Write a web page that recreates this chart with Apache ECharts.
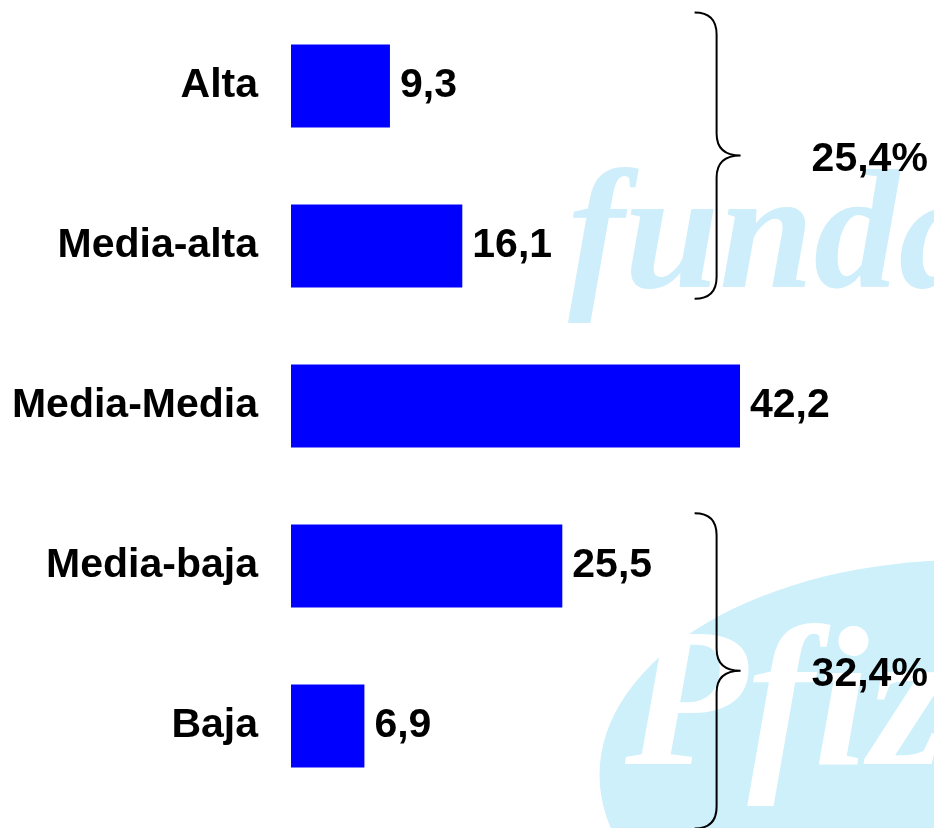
<!DOCTYPE html>
<html>
<head>
<meta charset="utf-8">
<script src="https://cdn.jsdelivr.net/npm/echarts@6/dist/echarts.min.js"></script>
<style>
  html, body { margin: 0; padding: 0; background: #fff; }
  #chart { width: 934px; height: 828px; }
</style>
</head>
<body>
<div id="chart"></div>
<script>
// datos del gráfico
const categorias = ['Alta', 'Media-alta', 'Media-Media', 'Media-baja', 'Baja']
const valores = [9.3, 16.1, 42.2, 25.5, 6.9]
// llaves de agrupación: desde/hasta categoría, texto del total
const grupos = [
  { desde: 'Alta', hasta: 'Media-alta', texto: '25,4%' },
  { desde: 'Media-baja', hasta: 'Baja', texto: '32,4%' },
]

const font = 'Arial, "Liberation Sans", sans-serif'
const fmt = v => String(v).replace('.', ',')
// cuánto sobresale cada llave por arriba / por abajo (en fracción de banda)
const extension = [[0.46, 0.33], [0.33, 0.64]]

const chart = echarts.init(document.getElementById('chart'))

chart.setOption({
  animation: false,
  backgroundColor: '#fff',
  graphic: [
    // marca de agua "fundación"
    { type: 'text', z: -10, left: 568, top: 158, silent: true,
      style: { text: 'fundación', fill: '#cdeefa', font: 'italic bold 170px "Liberation Serif", serif' } },
    // marca de agua óvalo Pfizer
    { type: 'circle', z: -10, silent: true, x: 965, y: 775, scaleX: 1.7, scaleY: 1,
      shape: { cx: 0, cy: 0, r: 215 }, style: { fill: '#cdf0fb' } },
    { type: 'text', z: -9, left: 625, top: 612, silent: true,
      style: { text: 'Pfizer', fill: '#ffffff', font: 'italic bold 200px "Liberation Serif", serif' } },
  ],
  grid: { left: 291, right: 111, top: 6, bottom: 22, containLabel: false },
  xAxis: { type: 'value', min: 0, max: 50, show: false },
  yAxis: {
    type: 'category', data: categorias, inverse: true,
    axisLine: { show: false }, axisTick: { show: false }, splitLine: { show: false },
    axisLabel: { color: '#000', fontSize: 41, fontWeight: 'bold', fontFamily: font, margin: 33 },
  },
  series: [
    { type: 'bar', data: valores, barCategoryGap: '48%',
      itemStyle: { color: '#0000ff' },
      label: { show: true, position: 'right', distance: 10, color: '#000',
        fontSize: 41, fontWeight: 'bold', fontFamily: font, formatter: p => fmt(p.value) } },
    { type: 'custom', silent: true, z: 5,
      data: grupos.map(g => [40, categorias.indexOf(g.desde), categorias.indexOf(g.hasta), g.texto]),
      renderItem(params, api) {
        const a = api.coord([api.value(0), api.value(1)])
        const b = api.coord([api.value(0), api.value(2)])
        const band = api.size([0, 1])[1]
        const ext = extension[params.dataIndex]
        const x = a[0]
        const y0 = a[1] - band * ext[0]
        const y1 = b[1] + band * ext[1]
        const ym = (y0 + y1) / 2
        const h = 22, w = 24
        const d = `M${x - h} ${y0} Q${x} ${y0} ${x} ${y0 + h} L${x} ${ym - h} Q${x} ${ym} ${x + w} ${ym}` +
          ` Q${x} ${ym} ${x} ${ym + h} L${x} ${y1 - h} Q${x} ${y1} ${x - h} ${y1}`
        return { type: 'group', children: [
          { type: 'path', shape: { pathData: d }, style: { fill: 'none', stroke: '#000', lineWidth: 2 } },
          { type: 'text', x: x + 95, y: ym + 4,
            style: { text: api.value(3), fill: '#000', font: 'bold 41px ' + font,
              textAlign: 'left', textVerticalAlign: 'middle' } },
        ] }
      },
    },
  ],
})
</script>
</body>
</html>
